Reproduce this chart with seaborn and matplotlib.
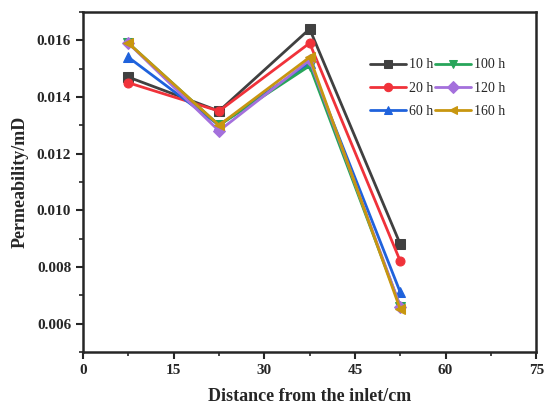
import pandas as pd
import matplotlib.pyplot as plt
import seaborn as sns

# Distance from the inlet (cm) and permeability (mD) at each soak time
distance = [7.5, 22.5, 37.5, 52.5]
times = ['10 h', '20 h', '60 h', '100 h', '120 h', '160 h']
perm_10h = [0.0147, 0.0135, 0.0164, 0.0088]
perm_20h = [0.0145, 0.0135, 0.0159, 0.0082]
perm_60h = [0.0154, 0.0130, 0.0152, 0.0071]
perm_100h = [0.0159, 0.0130, 0.0151, 0.0066]
perm_120h = [0.0159, 0.0128, 0.0153, 0.0066]
perm_160h = [0.0159, 0.0130, 0.0154, 0.0065]

colors = ['#404040', '#F0323A', '#1F62DC', '#27A55A', '#A470DC', '#C8960F']
markers = ['s', 'o', '^', 'v', 'D', '<']

# --- build long-form table ---
rows = []
for t, vals in zip(times, [perm_10h, perm_20h, perm_60h, perm_100h, perm_120h, perm_160h]):
    for d, v in zip(distance, vals):
        rows.append({'Distance': d, 'Permeability': v, 'Time': t})
df = pd.DataFrame(rows)

sns.set_style('ticks')
plt.rcParams['font.family'] = ['Liberation Serif', 'DejaVu Serif']

fig = plt.figure(figsize=(5.5, 4.12), dpi=100)
ax = fig.add_axes([0.151, 0.146, 0.824, 0.825])

sns.lineplot(data=df, x='Distance', y='Permeability', hue='Time', style='Time',
             hue_order=times, style_order=times, palette=colors, markers=markers,
             dashes=False, linewidth=2, markersize=6.5, ax=ax)

# markers filled with their own colour, no white edge
for line in ax.get_lines():
    line.set_markeredgecolor(line.get_color())

ax.set_xlim(0, 75)
ax.set_ylim(0.005, 0.017)
ax.set_xticks([0, 15, 30, 45, 60, 75])
ax.set_yticks([0.006, 0.008, 0.010, 0.012, 0.014, 0.016])
ax.set_xticks([7.5, 22.5, 37.5, 52.5, 67.5], minor=True)
ax.set_yticks([0.005, 0.007, 0.009, 0.011, 0.013, 0.015, 0.017], minor=True)
ax.set_yticklabels(['0.006', '0.008', '0.010', '0.012', '0.014', '0.016'])
ax.tick_params(which='major', direction='out', length=5, width=1.5, labelsize=11)
ax.tick_params(which='minor', direction='out', length=3, width=1.2)
for lbl in ax.get_xticklabels() + ax.get_yticklabels():
    lbl.set_fontweight('bold')
for s in ax.spines.values():
    s.set_linewidth(1.8)
    s.set_visible(True)

ax.set_xlabel('Distance from the inlet/cm', fontsize=13, fontweight='bold', labelpad=8)
ax.set_ylabel('Permeability/mD', fontsize=13, fontweight='bold', labelpad=6)

leg = ax.legend(ncol=2, loc='upper right', bbox_to_anchor=(0.96, 0.9), frameon=False,
                fontsize=10, handlelength=2.6, columnspacing=0.15, handletextpad=0.2,
                labelspacing=0.75)
for h in leg.legend_handles:
    h.set_markeredgecolor(h.get_color())
    h.set_markersize(6)

fig.savefig('out.png', dpi=100)
